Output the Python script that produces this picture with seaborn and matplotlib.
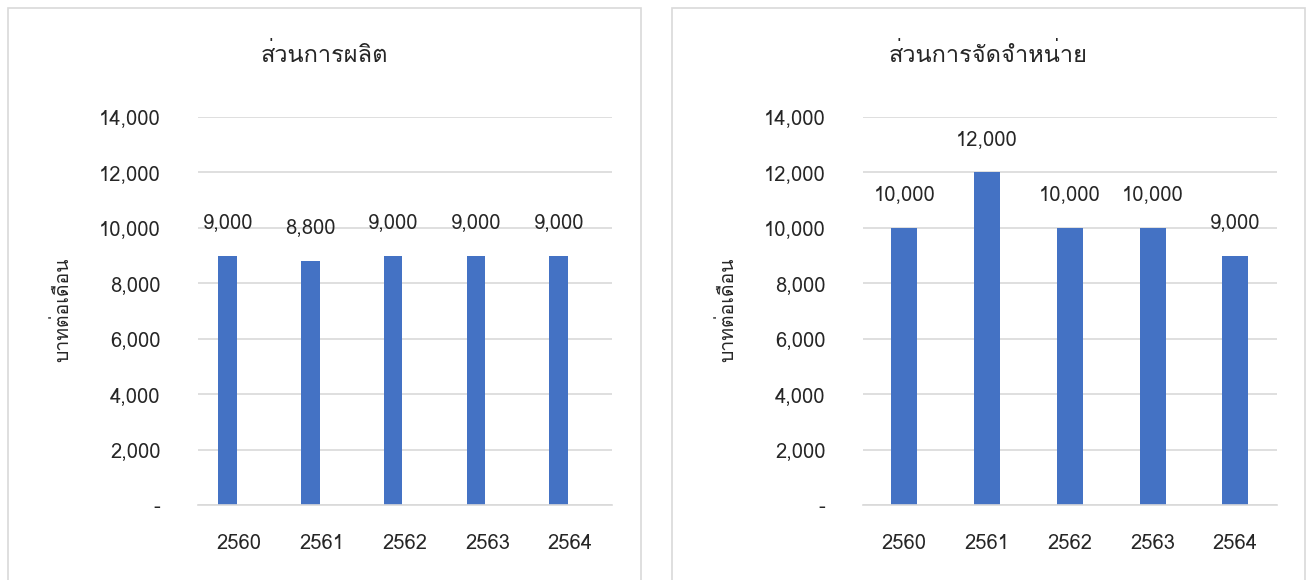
import matplotlib
matplotlib.use("Agg")
import matplotlib.pyplot as plt
import seaborn as sns
import pandas as pd
import numpy as np
from matplotlib import font_manager
from matplotlib.patches import Rectangle
from matplotlib.ticker import FuncFormatter

years = ["2560", "2561", "2562", "2563", "2564"]
production = [9000, 8800, 9000, 9000, 9000]
distribution = [10000, 12000, 10000, 10000, 9000]
titles = ["ส่วนการผลิต", "ส่วนการจัดจำหน่าย"]
ylabel = "บาทต่อเดือน"
yticks = [0, 2000, 4000, 6000, 8000, 10000, 12000, 14000]

sns.set_theme(style="white")

# find a regular-weight font covering Thai
thai_family = None
try:
    from fontTools.ttLib import TTFont
    cands = sorted(font_manager.fontManager.ttflist,
                   key=lambda f: (abs((f.weight if isinstance(f.weight, int) else 400) - 400),
                                  f.style != "normal"))
    for f in cands:
        try:
            tt = TTFont(f.fname, fontNumber=0, lazy=True)
            cmap = tt.getBestCmap()
            if cmap and 0x0E2A in cmap and 0x0E48 in cmap:
                thai_family = f.name
                break
        except Exception:
            continue
except Exception:
    pass
fams = ([thai_family] if thai_family else []) + ["Noto Sans", "DejaVu Sans"]
plt.rcParams["font.family"] = fams

TXT = "#262626"
GRID = "#d9d9d9"
BAR = "#4472c4"

fig = plt.figure(figsize=(13.13, 5.80), dpi=100)
W, H = 1313, 580

# panel frames
for x0, x1 in [(8, 641), (672, 1305)]:
    fig.patches.append(Rectangle((x0 / W, -0.05), (x1 - x0) / W, (580 - 8) / H + 0.05,
                                 transform=fig.transFigure, fill=False,
                                 edgecolor=GRID, linewidth=1.2))

bottom = (580 - 505) / H
height = (505 - 117) / H

fmt = FuncFormatter(lambda v, p: "-" if v == 0 else f"{int(v):,}")

def style_axis(ax, vals, offset):
    ax.set_ylim(0, 14000)
    ax.set_xlim(-0.5, 4.5)
    ax.set_yticks(yticks)
    ax.yaxis.set_major_formatter(fmt)
    ax.grid(axis="y", color=GRID, linewidth=1.2)
    ax.set_axisbelow(True)
    for s in ["top", "right", "left"]:
        ax.spines[s].set_visible(False)
    ax.spines["bottom"].set_color(GRID)
    ax.spines["bottom"].set_linewidth(1.2)
    ax.tick_params(axis="y", length=0, pad=27, labelsize=14.5, labelcolor=TXT)
    ax.tick_params(axis="x", length=0, pad=21, labelsize=14.5, labelcolor=TXT)
    ax.set_xlabel("")
    ax.set_ylabel("")
    for i, v in enumerate(vals):
        ax.annotate(f"{v:,}", (i + offset, v), xytext=(0, 17), textcoords="offset points",
                    ha="center", va="bottom", fontsize=14.5, color=TXT)

# left: clustered chart with an empty second series (bars sit left of centre)
axL = fig.add_axes([198 / W, bottom, 413.7 / W, height])
dfL = pd.DataFrame({"year": years * 2,
                    "value": production + [np.nan] * len(years),
                    "series": ["a"] * len(years) + ["b"] * len(years)})
sns.barplot(data=dfL, x="year", y="value", hue="series", hue_order=["a", "b"],
            palette=[BAR, BAR], ax=axL, saturation=1, width=0.564, gap=0.21,
            errorbar=None, legend=False, linewidth=0)
style_axis(axL, production, -0.141)

# right: single series, centred bars
axR = fig.add_axes([863 / W, bottom, 413.7 / W, height])
dfR = pd.DataFrame({"year": years, "value": distribution})
sns.barplot(data=dfR, x="year", y="value", ax=axR, color=BAR,
            saturation=1, width=0.314, errorbar=None, linewidth=0)
style_axis(axR, distribution, 0.0)

for tcx, ylx, title in [(324.5, 62, titles[0]), (988.5, 727, titles[1])]:
    fig.text(tcx / W, (580 - 55) / H, title, ha="center", va="center",
             fontsize=17, color=TXT)
    fig.text(ylx / W, (580 - 310) / H, ylabel, ha="center", va="center",
             rotation=90, fontsize=14, color=TXT)

fig.savefig("out.png", dpi=100, facecolor="white")
